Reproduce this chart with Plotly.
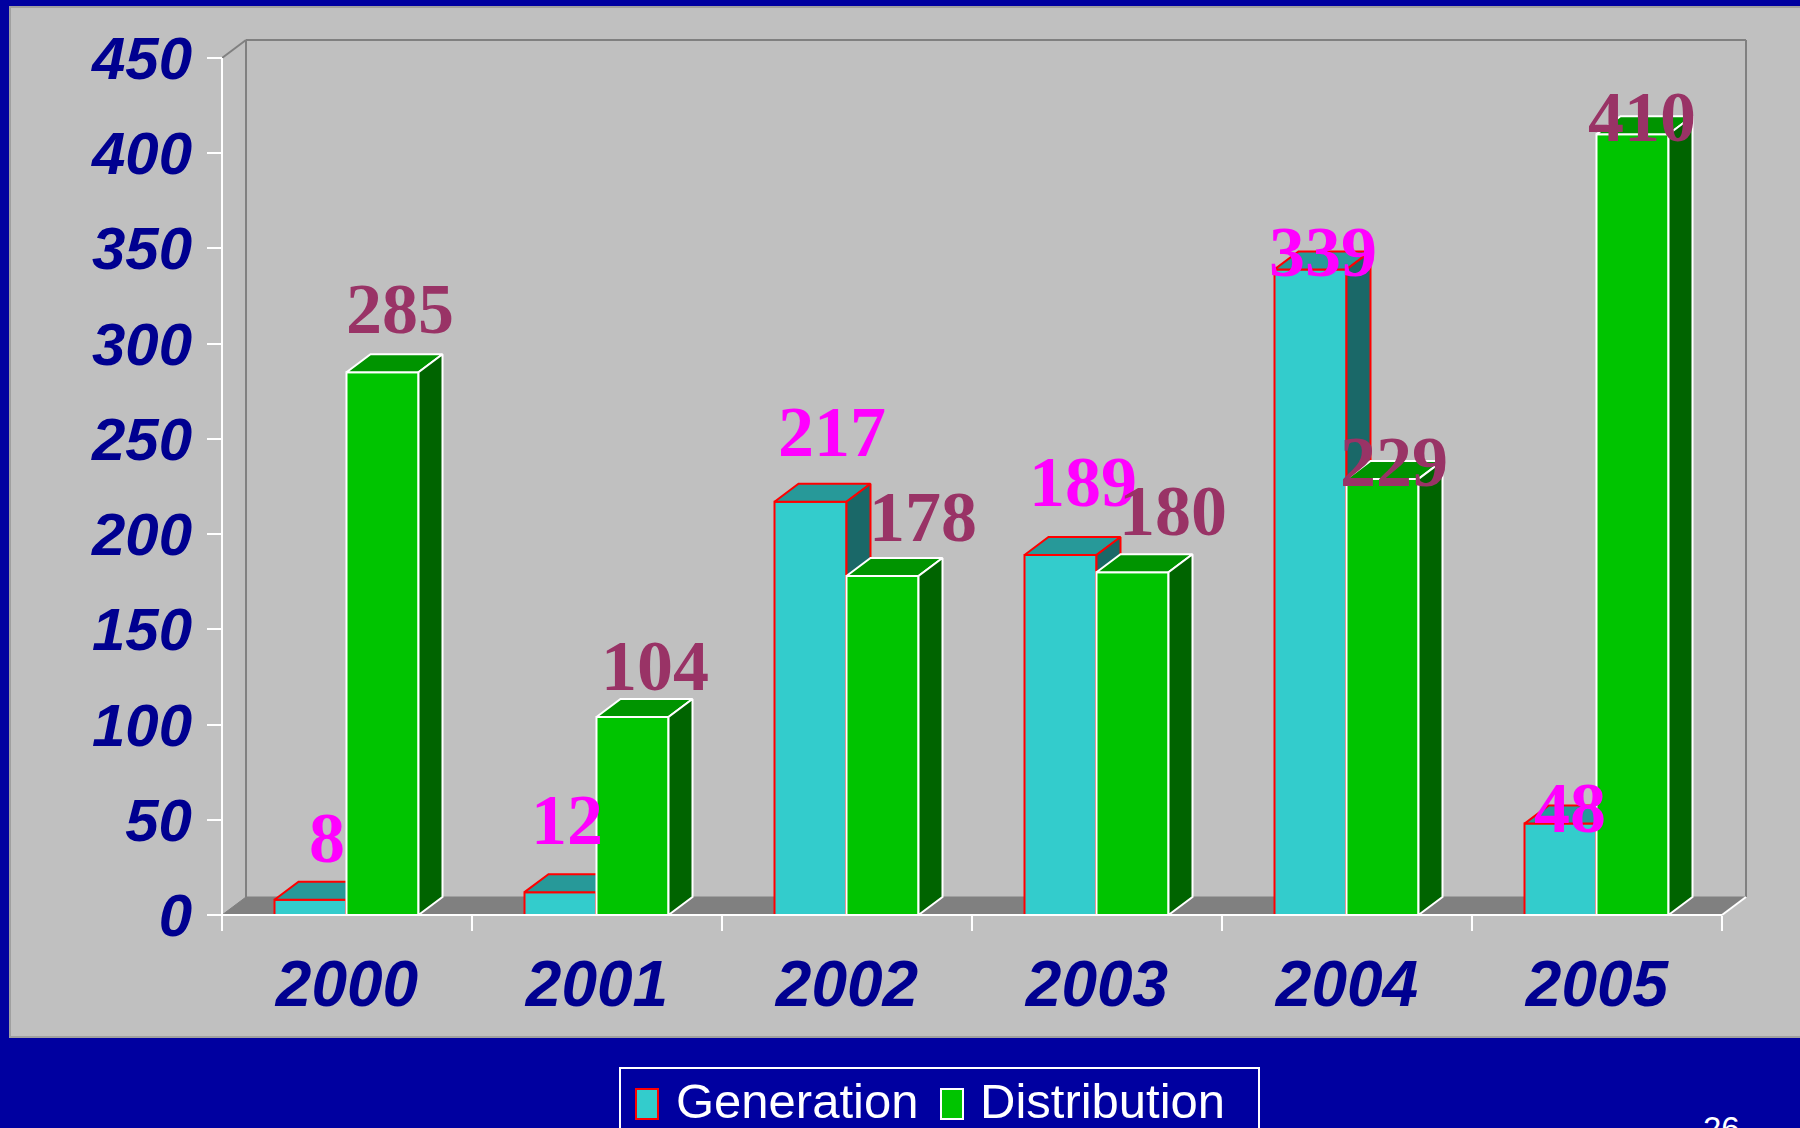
import plotly.graph_objects as go

# ---------------- data ----------------
years = ["2000", "2001", "2002", "2003", "2004", "2005"]
series_names = ["Generation", "Distribution"]
generation = [8, 12, 217, 189, 339, 48]
distribution = [285, 104, 178, 180, 229, 410]
y_tick_values = [0, 50, 100, 150, 200, 250, 300, 350, 400, 450]

# -------------- label nudges (pixels, style only) --------------
gen_label_above = [20, 30, 28, 31, -25, -26]
gen_label_dx = [4, -6, 9, 10, 0, -3]
dist_label_above = [21, 9, 17, 19, -25, -25]
dist_label_dx = [5, 10, 28, 28, -1, -3]

# -------------- geometry / style --------------
W, H = 1800, 1128
ML, MR, MT, MB = 197, 41, 20, 204
PX_PER_CAT = 250.0
PX_PER_UNIT = 857.0 / 450.0
X0_PX = 222.0   # pixel of the first category boundary
Y0_PX = 915.0   # pixel of value 0

plot_w = W - ML - MR
plot_h = H - MT - MB
xmin = -0.5 - (X0_PX - ML) / PX_PER_CAT
xmax = xmin + plot_w / PX_PER_CAT
ymin = -((H - MB) - Y0_PX) / PX_PER_UNIT
ymax = ymin + plot_h / PX_PER_UNIT

DX = 24.0 / PX_PER_CAT
DY = 18.0 / PX_PER_UNIT
BAR_W = 0.288
OFFSETS = [-0.29, -0.002]
N = len(years)
X_LO, X_HI = -0.5, N - 0.5
Y_TOP = y_tick_values[-1]

BLUE = "#0000A0"
PANEL = "#C0C0C0"
NAVY = "#000090"
styles = [
    dict(front="#33CCCC", top="#279999", side="#1A6868", edge="#FF0000", label="#FF00FF"),
    dict(front="#00C400", top="#009400", side="#006400", edge="#FFFFFF", label="#993366"),
]


def fx(x):  # data x -> paper
    return (x - xmin) / (xmax - xmin)


def fy(y):  # data y -> paper
    return (y - ymin) / (ymax - ymin)


def px_x(p):  # pixel x -> paper
    return (p - ML) / plot_w


def px_y(p):  # pixel y -> paper
    return ((H - MB) - p) / plot_h


fig = go.Figure()

# ---------- 3D bars (faces derived from the data values) ----------
for s, vals in enumerate([generation, distribution]):
    off = OFFSETS[s]
    fxs, fys, txs, tys, sxs, sys_ = [], [], [], [], [], []
    for i, v in enumerate(vals):
        x0 = i + off
        x1 = x0 + BAR_W
        fxs += [x0, x1, x1, x0, x0, None]
        fys += [0, 0, v, v, 0, None]
        txs += [x0, x1, x1 + DX, x0 + DX, x0, None]
        tys += [v, v, v + DY, v + DY, v, None]
        sxs += [x1, x1 + DX, x1 + DX, x1, x1, None]
        sys_ += [0, DY, v + DY, v, 0, None]
    st = styles[s]
    for xs, ys, col, name in [(fxs, fys, st["front"], series_names[s]),
                              (txs, tys, st["top"], series_names[s] + " top"),
                              (sxs, sys_, st["side"], series_names[s] + " side")]:
        fig.add_trace(go.Scatter(
            x=xs, y=ys, mode="lines", fill="toself", fillcolor=col,
            line=dict(color=st["edge"], width=2), name=name,
            showlegend=False, hoverinfo="skip"))

# dummy trace to activate the label axis
fig.add_trace(go.Scatter(x=[], y=[], xaxis="x2", yaxis="y", showlegend=False))

# ---------- value labels ----------
annotations = []
for s, vals in enumerate([generation, distribution]):
    above = gen_label_above if s == 0 else dist_label_above
    ddx = gen_label_dx if s == 0 else dist_label_dx
    for i, v in enumerate(vals):
        annotations.append(dict(
            x=i + OFFSETS[s] + BAR_W / 2 + DX / 2, y=v + DY, xref="x", yref="y",
            text=str(v), showarrow=False, xanchor="center", yanchor="middle",
            xshift=ddx[i], yshift=above[i] + 24,
            font=dict(family="Liberation Serif, Times New Roman, serif", size=72,
                      color=styles[s]["label"], weight="bold")))

# ---------- frame decorations ----------
shapes = []
# grey panel
shapes.append(dict(type="rect", xref="paper", yref="paper", layer="below",
                   x0=px_x(10), x1=px_x(1815), y0=px_y(7), y1=px_y(1037),
                   fillcolor=PANEL, line=dict(color="#A0A0A0", width=2)))
# floor
floor_path = "M {a},{b} L {c},{b} L {d},{e} L {f},{e} Z".format(
    a=fx(X_LO), b=fy(0), c=fx(X_HI), d=fx(X_HI + DX), e=fy(DY), f=fx(X_LO + DX))
shapes.append(dict(type="path", xref="paper", yref="paper", layer="below",
                   path=floor_path, fillcolor="#808080", line=dict(color="#808080", width=1)))


def seg(x0, y0, x1, y1, color, width=2, layer="below"):
    return dict(type="line", xref="paper", yref="paper", layer=layer,
                x0=fx(x0), y0=fy(y0), x1=fx(x1), y1=fy(y1),
                line=dict(color=color, width=width))


WALL = "#808080"
shapes.append(seg(X_LO + DX, DY, X_LO + DX, Y_TOP + DY, WALL))
shapes.append(seg(X_LO + DX, Y_TOP + DY, X_HI + DX, Y_TOP + DY, WALL))
shapes.append(seg(X_HI + DX, DY, X_HI + DX, Y_TOP + DY, WALL))
shapes.append(seg(X_LO, Y_TOP, X_LO + DX, Y_TOP + DY, WALL))
shapes.append(seg(X_LO, 0, X_LO, Y_TOP, "#FFFFFF"))
shapes.append(seg(X_LO, 0, X_HI, 0, "#FFFFFF", layer="above"))
shapes.append(seg(X_HI, 0, X_HI + DX, DY, "#FFFFFF"))

# ---------- legend (manual) ----------
shapes.append(dict(type="rect", xref="paper", yref="paper", layer="above",
                   x0=px_x(620), x1=px_x(1259), y0=px_y(1068), y1=px_y(1160),
                   fillcolor="rgba(0,0,0,0)", line=dict(color="#FFFFFF", width=2)))
legend_items = [(636, 674), (941, 978)]
for s, (sq_x, tx) in enumerate(legend_items):
    shapes.append(dict(type="rect", xref="paper", yref="paper", layer="above",
                       x0=px_x(sq_x), x1=px_x(sq_x + 22), y0=px_y(1089), y1=px_y(1119),
                       fillcolor=styles[s]["front"], line=dict(color=styles[s]["edge"], width=2)))
    annotations.append(dict(
        x=px_x(tx), y=px_y(1101), xref="paper", yref="paper", text=series_names[s],
        showarrow=False, xanchor="left", yanchor="middle",
        font=dict(family="Liberation Sans, Arial, sans-serif", size=49, color="#FFFFFF")))

# page number
annotations.append(dict(x=px_x(1721), y=px_y(1108), xref="paper", yref="paper", text="26",
                        showarrow=False, xanchor="center", yanchor="top",
                        font=dict(family="Liberation Sans, Arial", size=33, color="#FFFFFF")))

y_tick_font = dict(family="Liberation Sans, Arial, sans-serif", size=60, color=NAVY,
                   weight="bold", style="italic")
x_tick_font = dict(family="Liberation Sans, Arial, sans-serif", size=64, color=NAVY,
                   weight="bold", style="italic")

fig.update_layout(
    width=W, height=H,
    margin=dict(l=ML, r=MR, t=MT, b=MB, pad=0),
    paper_bgcolor=BLUE, plot_bgcolor="rgba(0,0,0,0)",
    showlegend=False,
    xaxis=dict(range=[xmin, xmax], tickmode="array",
               tickvals=[k - 0.5 for k in range(N + 1)], ticktext=[""] * (N + 1),
               ticks="outside", ticklen=15, tickwidth=2, tickcolor="#FFFFFF",
               showticklabels=False, showgrid=False, zeroline=False, showline=False,
               anchor="free", position=fy(0)),
    xaxis2=dict(range=[xmin, xmax], overlaying="x", tickmode="array",
                tickvals=list(range(N)), ticktext=years, ticks="",
                tickfont=x_tick_font, showgrid=False, zeroline=False, showline=False,
                anchor="free", position=fy(0), side="bottom", ticklabelstandoff=26),
    yaxis=dict(range=[ymin, ymax], tickmode="array", tickvals=y_tick_values,
               ticks="outside", ticklen=15, tickwidth=2, tickcolor="#FFFFFF",
               tickfont=y_tick_font, showgrid=False, zeroline=False, showline=False,
               anchor="free", position=fx(X_LO), ticklabelstandoff=3),
    shapes=shapes,
    annotations=annotations,
)

fig.write_html(
    "out.html",
    config={"displayModeBar": False},
    post_script="document.body.style.margin='0px';document.body.style.overflow='hidden';",
)
